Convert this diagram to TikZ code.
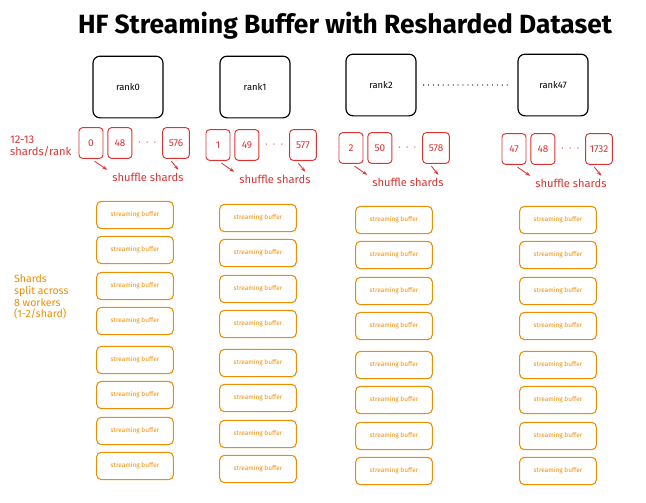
\documentclass[tikz,border=0pt]{standalone}
\usepackage{fontspec}
\setmainfont{Fira Sans}
\usetikzlibrary{calc,positioning,arrows.meta}
\definecolor{shardred}{HTML}{E03131}
\definecolor{bufor}{HTML}{F08C00}
\tikzset{
  rank/.style={draw, line width=1pt, rounded corners=6pt, minimum width=2.1cm, minimum height=1.85cm, font=\fontsize{8}{9}\selectfont},
  shard/.style={draw=shardred, text=shardred, line width=0.8pt, rounded corners=3pt, minimum width=0.72cm, minimum height=0.92cm, font=\fontsize{8.5}{9}\selectfont},
  wide/.style={shard, minimum width=0.8cm},
  buf/.style={draw=bufor, text=bufor, line width=0.9pt, rounded corners=4pt, minimum width=2.3cm, minimum height=0.82cm, font=\fontsize{5.5}{6}\selectfont},
  note/.style={text=shardred, font=\fontsize{9.5}{10}\selectfont},
  arr/.style={-{Stealth[length=4pt]}, shardred, line width=0.7pt}
}
\begin{document}
\begin{tikzpicture}[x=0.03cm, y=-0.03cm]
  \useasboundingbox (0,0) rectangle (646,502);
  \node[font=\bfseries\fontsize{22.5}{24}\selectfont] (title) at (345,26) {HF Streaming Buffer with Resharded Dataset};

  % ranks
  \node[rank] (r0) at (128,87) {rank0};
  \node[rank] (r1) at (255,87) {rank1};
  \node[rank] (r2) at (381,85) {rank2};
  \node[rank] (r47) at (553,85) {rank47};
  \draw[line width=1.1pt, line cap=round, dash pattern=on 0pt off 4.2pt, shorten <=6pt, shorten >=6pt] (r2) -- (r47);

  % shards
  \node[note, align=left, anchor=west] (lbl) at (6,146) {12-13\\shards/rank};
  \foreach \n/\a/\b/\c/\x/\y in {0/0/48/576/91/143, 1/1/49/577/218/145, 2/2/50/578/351/148, 3/47/48/1732/514/149}{
    \node[shard] (s\n a) at (\x,\y) {\a};
    \node[shard, right=0.12cm of s\n a] (s\n b) {\b};
    \node[right=0.04cm of s\n b, text=shardred] (s\n d) {$\cdot\,\cdot\,\cdot$};
    \node[wide, right=0.04cm of s\n d] (s\n c) {\c};
    \node[note] (sh\n) at ($(s\n b)!0.5!(s\n c)+(0,34)$) {shuffle shards};
    \draw[arr] ([xshift=3pt,yshift=-2pt]s\n a.south) -- ([xshift=-1pt,yshift=-1pt]sh\n.north west);
    \draw[arr] ([xshift=-4pt,yshift=-2pt]s\n c.south) -- ([xshift=-8pt,yshift=-1pt]sh\n.north east);
  }

  % streaming buffers
  \node[text=bufor, align=left, anchor=west, font=\fontsize{9}{10}\selectfont] (wk) at (10,297) {Shards\\split across\\8 workers\\(1-2/shard)};
  \foreach \n/\x/\y in {0/135/215, 1/258/218, 2/394/220, 3/558/220}{
    \foreach \k/\d in {1/0, 2/35, 3/71, 4/106, 5/145, 6/180, 7/216, 8/251}{
      \node[buf] (b\n\k) at (\x,\y+\d) {streaming buffer};
    }
  }
\end{tikzpicture}
\end{document}
